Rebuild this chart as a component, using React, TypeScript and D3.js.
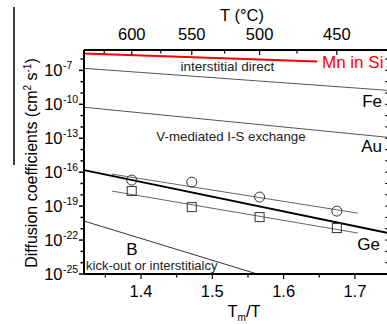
import React from 'react'
import * as d3 from 'd3'

// Tm of Ge (K), used for the top T(°C) axis
const TM = 1211
const topMajor = [600, 550, 500, 450]
const topMinor = [625, 575, 525, 475]
const xMajor = [1.4, 1.5, 1.6, 1.7]
const xMinor = [1.35, 1.45, 1.55, 1.65]
const yLabelled = [-25, -22, -19, -16, -13, -10, -7]

// lines as [Tm/T, log10 D]
const mnLine = [[1.32, -5.5], [1.647, -6.21]]
const interstitialDirect = [[1.32, -6.82], [1.745, -8.76]]
const vMediated = [[1.32, -10.26], [1.745, -12.91]]
const geSelf = [[1.32, -15.82], [1.745, -21.35]]
const circleFit = [[1.359, -16.17], [1.704, -19.62]]
const squareFit = [[1.359, -17.67], [1.704, -21.38]]
const boron = [[1.32, -20.32], [1.563, -25]]

const pointTemps = [600, 550, 500, 450]
const circleVals = [-16.7, -16.88, -18.2, -19.44]
const squareVals = [-17.67, -19.09, -19.97, -20.94]

const W = 387
const H = 324
const font = '"Liberation Sans", Arial, sans-serif'

export default function App() {
  const x = d3.scaleLinear().domain([1.32, 1.745]).range([84, 387])
  const y = d3.scaleLinear().domain([-25, -5.2]).range([274, 50])
  const tx = (t: number) => x(TM / (t + 273.15))
  const line = d3.line<number[]>().x(d => x(d[0])).y(d => y(d[1]))

  const x0 = x.range()[0]
  const x1 = x.range()[1]
  const yb = y.range()[0]
  const yt = y.range()[1]
  const decades = d3.range(-25, -5)

  return (
    <div style={{ position: 'absolute', left: 0, top: 0 }}>
      <svg width={W} height={H} style={{ display: 'block', fontFamily: font }}>
        <rect width={W} height={H} fill="#fff" />
        <line x1={14} x2={14} y1={7} y2={165} stroke="#000" strokeWidth={1.5} />

        {/* data lines */}
        <path d={line(interstitialDirect)!} stroke="#555" strokeWidth={1} fill="none" />
        <path d={line(vMediated)!} stroke="#555" strokeWidth={1} fill="none" />
        <path d={line(boron)!} stroke="#333" strokeWidth={1} fill="none" />
        <path d={line(circleFit)!} stroke="#666" strokeWidth={1} fill="none" />
        <path d={line(squareFit)!} stroke="#666" strokeWidth={1} fill="none" />
        <path d={line(geSelf)!} stroke="#000" strokeWidth={2} fill="none" />
        <path d={line(mnLine)!} stroke="#f00" strokeWidth={2} fill="none" />

        {pointTemps.map((t, i) => (
          <circle key={'c' + i} cx={tx(t)} cy={y(circleVals[i])} r={5} fill="none" stroke="#333" strokeWidth={1} />
        ))}
        {pointTemps.map((t, i) => (
          <rect key={'s' + i} x={tx(t) - 4.5} y={y(squareVals[i]) - 4.5} width={9} height={9} fill="none" stroke="#333" strokeWidth={1} />
        ))}

        {/* axes */}
        <line x1={x0} x2={x1} y1={yt} y2={yt} stroke="#000" strokeWidth={2} />
        <line x1={x0} x2={x1} y1={yb} y2={yb} stroke="#000" strokeWidth={2} />
        <line x1={x0} x2={x0} y1={yt} y2={yb} stroke="#000" strokeWidth={2} />

        {topMajor.map(t => (
          <g key={'tm' + t}>
            <line x1={tx(t)} x2={tx(t)} y1={yt} y2={yt + 5} stroke="#000" strokeWidth={1.2} />
            <text x={tx(t)} y={40} textAnchor="middle" fontSize={16.5}>{t}</text>
          </g>
        ))}
        {topMinor.map(t => (
          <line key={'tn' + t} x1={tx(t)} x2={tx(t)} y1={yt} y2={yt + 3.5} stroke="#000" strokeWidth={1.2} />
        ))}
        <text x={242} y={21} textAnchor="middle" fontSize={16.5}>T (°C)</text>

        {xMajor.map(v => (
          <g key={'xm' + v}>
            <line x1={x(v)} x2={x(v)} y1={yb} y2={yb + 5} stroke="#000" strokeWidth={1.2} />
            <text x={x(v)} y={297} textAnchor="middle" fontSize={16.5}>{v.toFixed(1)}</text>
          </g>
        ))}
        {xMinor.map(v => (
          <line key={'xn' + v} x1={x(v)} x2={x(v)} y1={yb} y2={yb + 3.5} stroke="#000" strokeWidth={1.2} />
        ))}
        <text x={244} y={317} textAnchor="middle" fontSize={16.5}>
          T<tspan fontSize={10} dy={4}>m</tspan><tspan dy={-4}>/T</tspan>
        </text>

        {decades.map(d => (
          <g key={'yd' + d}>
            <line x1={x0} x2={x0 - (yLabelled.includes(d) ? 5 : 3.5)} y1={y(d)} y2={y(d)} stroke="#000" strokeWidth={1.5} />
            <line x1={385} x2={387} y1={y(d)} y2={y(d)} stroke="#000" strokeWidth={1} />
          </g>
        ))}
        {yLabelled.map(d => (
          <g key={'yl' + d}>
            <text x={62.5} y={y(d) + 6} textAnchor="end" fontSize={16.5}>10</text>
            <text x={63} y={y(d) - 1.5} fontSize={10.5}>{d}</text>
          </g>
        ))}

        <text transform="translate(37,163) rotate(-90)" textAnchor="middle" fontSize={16}>
          Diffusion coefficients (cm<tspan fontSize={10} dy={-6}>2</tspan><tspan dy={6}> s</tspan><tspan fontSize={10} dy={-6}>-1</tspan><tspan dy={6}>)</tspan>
        </text>

        {/* annotations */}
        <text x={322} y={68} fill="#f00" fontSize={17}>Mn in Si</text>
        <text x={227.5} y={71} textAnchor="middle" fontSize={13.5} fill="#222">interstitial direct</text>
        <text x={231} y={141} textAnchor="middle" fontSize={13.3} fill="#222">V-mediated I-S exchange</text>
        <text x={382} y={107} textAnchor="end" fontSize={17}>Fe</text>
        <text x={382} y={152} textAnchor="end" fontSize={17}>Au</text>
        <text x={380} y={250} textAnchor="end" fontSize={17}>Ge</text>
        <text x={132} y={255} textAnchor="middle" fontSize={17}>B</text>
        <text x={86} y={270} fontSize={13} fill="#222">kick-out or interstitialcy</text>
      </svg>
    </div>
  )
}
